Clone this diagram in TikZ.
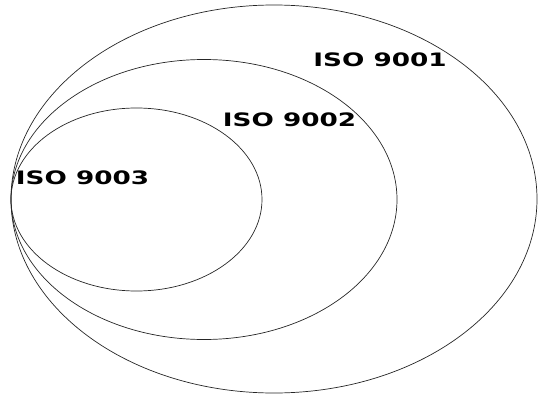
\documentclass[tikz,border=0pt]{standalone}
\usepackage{fontspec}
\newfontfamily\lab[FakeStretch=1.42]{DejaVu Sans Bold}
\begin{document}
\begin{tikzpicture}[x=1pt,y=-1pt,
  ring/.style={draw=black!85,line width=0.7pt},
  isolabel/.style={font=\lab\fontsize{18.5}{18.5}\selectfont,inner sep=0pt,anchor=center}]
\useasboundingbox (0,0) rectangle (538,396);
\draw[ring] (274,199) ellipse [x radius=263, y radius=194];
\draw[ring] (204,199.5) ellipse [x radius=193, y radius=140];
\draw[ring] (136.5,199.5) ellipse [x radius=125.5, y radius=91.5];
\node[isolabel] (l1) at (380,59.5) {ISO 9001};
\node[isolabel] (l2) at (289.5,119.5) {ISO 9002};
\node[isolabel] (l3) at (82.5,178) {ISO 9003};
\end{tikzpicture}
\end{document}
